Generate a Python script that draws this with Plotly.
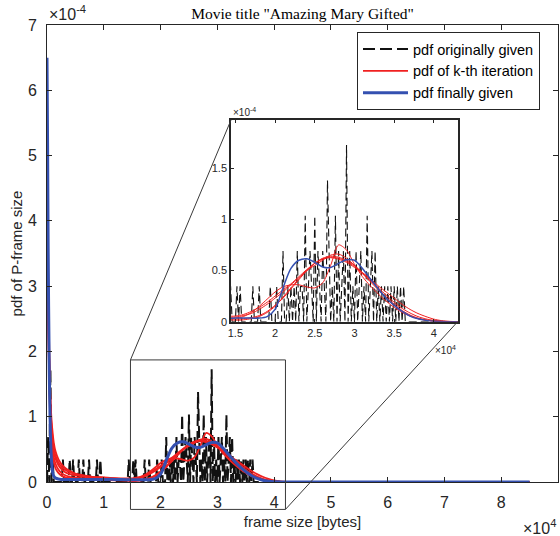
import numpy as np
import plotly.graph_objects as go

# ---------------- data ----------------
# frame sizes of the smooth curves, in units of 1e4 bytes
curve_x_1e4 = [0, 0.01, 0.02, 0.04, 0.06, 0.08, 0.1, 0.12, 0.15, 0.2,
               0.25, 0.3, 0.4, 0.5, 0.65, 0.8, 1.0, 1.2, 1.4, 1.5,
               1.6, 1.7, 1.8, 1.9, 2.0, 2.1, 2.2, 2.3, 2.4, 2.5,
               2.6, 2.7, 2.8, 2.9, 3.0, 3.1, 3.2, 3.3, 3.4, 3.5,
               3.6, 3.7, 3.8, 3.9, 4.0, 4.1, 4.2, 4.4, 5.0, 8.5]

# pdf finally given (units of 1e-4)
pdf_final_1e_4 = [6.5, 5.2, 3.6, 1.7, 0.75, 0.32, 0.15, 0.09, 0.06, 0.045,
                  0.04, 0.04, 0.04, 0.04, 0.04, 0.04, 0.04, 0.04, 0.035, 0.035,
                  0.035, 0.035, 0.035, 0.05, 0.12, 0.33, 0.52, 0.6, 0.615, 0.58,
                  0.535, 0.53, 0.57, 0.605, 0.6, 0.52, 0.42, 0.32, 0.23, 0.16,
                  0.1, 0.055, 0.028, 0.013, 0.005, 0.002, 0, 0, 0, 0]

# pdfs of the k-th iterations (units of 1e-4)
pdf_iter1_1e_4 = [5.5, 4.2, 3.2, 2.0, 1.3, 0.95, 0.75, 0.6, 0.47, 0.35,
                  0.28, 0.23, 0.17, 0.13, 0.1, 0.08, 0.065, 0.05, 0.04, 0.035,
                  0.05, 0.09, 0.15, 0.22, 0.29, 0.34, 0.36, 0.36, 0.34, 0.33,
                  0.38, 0.55, 0.75, 0.70, 0.56, 0.44, 0.35, 0.27, 0.2, 0.14,
                  0.09, 0.055, 0.03, 0.015, 0.006, 0.002, 0, 0, 0, 0]
pdf_iter2_1e_4 = [4.8, 3.8, 2.9, 1.8, 1.15, 0.8, 0.6, 0.47, 0.36, 0.26,
                  0.2, 0.16, 0.12, 0.1, 0.08, 0.065, 0.055, 0.05, 0.045, 0.045,
                  0.06, 0.08, 0.12, 0.17, 0.23, 0.29, 0.36, 0.43, 0.5, 0.57,
                  0.62, 0.64, 0.63, 0.6, 0.55, 0.48, 0.41, 0.33, 0.26, 0.19,
                  0.13, 0.085, 0.05, 0.027, 0.013, 0.005, 0.002, 0, 0, 0]
pdf_iter3_1e_4 = [4.5, 3.5, 2.6, 1.6, 1.0, 0.68, 0.5, 0.38, 0.28, 0.19,
                  0.14, 0.11, 0.08, 0.065, 0.05, 0.045, 0.04, 0.035, 0.03, 0.025,
                  0.03, 0.04, 0.06, 0.1, 0.16, 0.23, 0.32, 0.41, 0.5, 0.57,
                  0.615, 0.625, 0.61, 0.58, 0.53, 0.47, 0.4, 0.32, 0.24, 0.17,
                  0.11, 0.065, 0.035, 0.017, 0.007, 0.003, 0, 0, 0, 0]
pdf_iter4_1e_4 = [4.2, 3.3, 2.5, 1.5, 0.9, 0.6, 0.42, 0.3, 0.21, 0.14,
                  0.1, 0.08, 0.06, 0.05, 0.04, 0.035, 0.03, 0.025, 0.02, 0.015,
                  0.018, 0.03, 0.05, 0.09, 0.15, 0.24, 0.33, 0.42, 0.5, 0.55,
                  0.6, 0.65, 0.66, 0.62, 0.55, 0.47, 0.39, 0.31, 0.23, 0.16,
                  0.1, 0.06, 0.03, 0.015, 0.006, 0.002, 0, 0, 0, 0]
pdf_iter5_1e_4 = [5.0, 4.0, 3.0, 1.9, 1.2, 0.85, 0.66, 0.52, 0.4, 0.3,
                  0.24, 0.2, 0.15, 0.12, 0.095, 0.08, 0.07, 0.06, 0.055, 0.055,
                  0.07, 0.1, 0.14, 0.19, 0.25, 0.31, 0.37, 0.44, 0.51, 0.57,
                  0.61, 0.63, 0.62, 0.59, 0.54, 0.48, 0.42, 0.35, 0.29, 0.23,
                  0.17, 0.12, 0.08, 0.05, 0.025, 0.01, 0.003, 0, 0, 0]

# pdf originally given: histogram counts at frame sizes (1e4 bytes)
orig_bin_1e4 = 0.02
orig_last_bin_1e4 = 4.4
orig_end_1e4 = 8.5
orig_pdf_per_count_1e_4 = 0.345
orig_spike_x_1e4 = [0.02, 0.06, 0.10,
                    0.28, 0.40, 0.46, 0.56, 0.64, 0.74, 0.88, 0.94,
                    1.44, 1.52, 1.56, 1.72, 1.80, 1.94, 2.02, 2.10, 2.16, 2.20,
                    2.24, 2.28, 2.32, 2.34, 2.38, 2.42, 2.44, 2.46, 2.50, 2.54,
                    2.56, 2.60, 2.62, 2.66, 2.68, 2.72, 2.76, 2.80, 2.84, 2.86,
                    2.90, 2.94, 2.98, 3.02, 3.06, 3.08, 3.12, 3.16, 3.20, 3.22,
                    3.26, 3.30, 3.34, 3.38, 3.42, 3.46, 3.50, 3.54, 3.58, 3.62]
orig_spike_count = [2, 5, 1,
                    1, 1, 1, 1, 1, 1, 1, 1,
                    1, 1, 1, 1, 1, 1, 1, 2, 1, 1,
                    1, 2, 1, 1, 3, 1, 2, 1, 3, 2,
                    1, 2, 1, 4, 2, 1, 3, 2, 1, 2,
                    5, 2, 1, 2, 1, 2, 1, 3, 1, 2,
                    2, 1, 1, 1, 1, 1, 1, 1, 1, 1]

# axes
main_xlim_1e4 = [0, 9]
main_ylim_1e_4 = [0, 7]
inset_xlim_1e4 = [1.445, 4.30]
inset_ylim_1e_4 = [0, 1.97]
zoom_box_x_1e4 = [1.47, 4.20]
zoom_box_y_1e_4 = [-0.42, 1.87]
main_xticks = [0, 1, 2, 3, 4, 5, 6, 7, 8, 9]
main_yticks = [0, 1, 2, 3, 4, 5, 6, 7]
inset_xticks = [1.5, 2, 2.5, 3, 3.5, 4]
inset_yticks = [0, 0.5, 1, 1.5]

title_text = 'Movie title "Amazing Mary Gifted"'
xlabel = "frame size [bytes]"
ylabel = "pdf of P-frame size"
legend_names = ["pdf originally given", "pdf of k-th iteration", "pdf finally given"]

# ---------------- build ----------------
XS, YS = 1e4, 1e-4
cx = np.array(curve_x_1e4) * XS
grid = np.round(np.arange(0, orig_last_bin_1e4 + 1e-9, orig_bin_1e4), 2)
orig = np.zeros_like(grid)
for p, c in zip(orig_spike_x_1e4, orig_spike_count):
    orig[np.argmin(np.abs(grid - p))] = c * orig_pdf_per_count_1e_4
ox = np.append(grid, orig_end_1e4) * XS
oy = np.append(orig, 0.0) * YS
iters = [pdf_iter1_1e_4, pdf_iter2_1e_4, pdf_iter3_1e_4, pdf_iter4_1e_4, pdf_iter5_1e_4]

BLACK = "#111111"
RED = "#f02020"
BLUE = "#3450b0"
AX = "#262626"
FONT = "Liberation Sans, Arial, sans-serif"

fig = go.Figure()

def add_set(xa, ya, wb, wr, wbl, dash, legend):
    fig.add_trace(go.Scatter(x=ox, y=oy, mode="lines", xaxis=xa, yaxis=ya,
                             line=dict(color=BLACK, width=wb, dash=dash),
                             name=legend_names[0], showlegend=legend, legendgroup="o",
                             hoverinfo="skip"))
    for i, r in enumerate(iters):
        fig.add_trace(go.Scatter(x=cx, y=np.array(r) * YS, mode="lines", xaxis=xa, yaxis=ya,
                                 line=dict(color=RED, width=wr, shape="spline", smoothing=0.8),
                                 name=legend_names[1], showlegend=legend and i == 0,
                                 legendgroup="r", hoverinfo="skip"))
    fig.add_trace(go.Scatter(x=cx, y=np.array(pdf_final_1e_4) * YS, mode="lines", xaxis=xa, yaxis=ya,
                             line=dict(color=BLUE, width=wbl, shape="spline", smoothing=0.8),
                             name=legend_names[2], showlegend=legend, legendgroup="b",
                             hoverinfo="skip"))

add_set("x", "y", 2.0, 1.8, 3.0, "12px,5px", True)
add_set("x2", "y2", 1.1, 1.0, 1.5, "8px,4px", False)

W, H = 560, 536
L, R, T, B = 47, 2, 25, 54
pw, ph = W - L - R, H - T - B
# inset domain from its pixel box
ix0, ix1 = (231 - L) / pw, (457.7 - L) / pw
iy0, iy1 = (H - B - 321.7) / ph, (H - B - 120) / ph

def fmt(v):
    return ("%g" % v)

axis_common = dict(showgrid=False, zeroline=False, showline=True, linecolor=AX,
                   ticks="inside", mirror="ticks", tickcolor=AX)

fig.update_layout(
    width=W, height=H, autosize=False,
    margin=dict(l=L, r=R, t=T, b=B),
    paper_bgcolor="white", plot_bgcolor="white",
    font=dict(family=FONT, color=AX),
    title=dict(text=title_text, x=0.5, xref="paper", xanchor="center",
               y=1 - 14 / H, yref="container", yanchor="middle",
               font=dict(family="Liberation Serif, Times New Roman, serif", size=15.5, color="#000000")),
    xaxis=dict(domain=[0, 1], range=[v * XS for v in main_xlim_1e4],
               tickvals=[v * XS for v in main_xticks], ticktext=[fmt(v) for v in main_xticks],
               ticklen=5, linewidth=1, tickfont=dict(size=16, color=AX),
               ticklabelstandoff=6,
               title=dict(text=xlabel, font=dict(size=15, color=AX), standoff=6),
               **axis_common),
    yaxis=dict(domain=[0, 1], range=[v * YS for v in main_ylim_1e_4],
               tickvals=[v * YS for v in main_yticks], ticktext=[fmt(v) for v in main_yticks],
               ticklen=5, linewidth=1, tickfont=dict(size=16, color=AX),
               ticklabelstandoff=6,
               title=dict(text=ylabel, font=dict(size=15, color=AX), standoff=1),
               **axis_common),
    xaxis2=dict(domain=[ix0, ix1], anchor="y2", range=[v * XS for v in inset_xlim_1e4],
                tickvals=[v * XS for v in inset_xticks], ticktext=[fmt(v) for v in inset_xticks],
                ticklen=3, linewidth=1.5, tickfont=dict(size=11, color=AX),
                **axis_common),
    yaxis2=dict(domain=[iy0, iy1], anchor="x2", range=[v * YS for v in inset_ylim_1e_4],
                tickvals=[v * YS for v in inset_yticks], ticktext=[fmt(v) for v in inset_yticks],
                ticklen=3, linewidth=1.5, tickfont=dict(size=11, color=AX),
                **axis_common),
    legend=dict(x=(357 - L) / pw, y=(H - B - 32) / ph, xanchor="left", yanchor="top",
                bgcolor="white", bordercolor=AX, borderwidth=1,
                font=dict(size=14.5, color="#000000", family=FONT),
                itemwidth=45, tracegroupgap=0),
    showlegend=True,
)

# exponent labels
fig.add_annotation(text="×10<sup>-4</sup>", xref="paper", yref="paper", x=0, y=1,
                   xanchor="left", yanchor="bottom", showarrow=False,
                   font=dict(size=16, color=AX))
fig.add_annotation(text="×10<sup>4</sup>", xref="paper", yref="paper", x=1, y=(H - B - 527) / ph,
                   xanchor="right", yanchor="middle", showarrow=False,
                   font=dict(size=16, color=AX))
fig.add_annotation(text="×10<sup>-4</sup>", xref="paper", yref="paper", x=ix0, y=iy1,
                   xanchor="left", yanchor="bottom", showarrow=False,
                   font=dict(size=10, color=AX))
fig.add_annotation(text="×10<sup>4</sup>", xref="paper", yref="paper", x=ix1, y=iy0,
                   xanchor="right", yanchor="top", yshift=-20, showarrow=False,
                   font=dict(size=10, color=AX))

# zoom box and connector lines (paper coords from main-axis data values)
def px(v):
    return (v - main_xlim_1e4[0]) / (main_xlim_1e4[1] - main_xlim_1e4[0])

def py(v):
    return (v - main_ylim_1e_4[0]) / (main_ylim_1e_4[1] - main_ylim_1e_4[0])

bx0, bx1 = px(zoom_box_x_1e4[0]), px(zoom_box_x_1e4[1])
by0, by1 = py(zoom_box_y_1e_4[0]), py(zoom_box_y_1e_4[1])
fig.add_shape(type="rect", xref="paper", yref="paper", x0=bx0, x1=bx1, y0=by0, y1=by1,
              line=dict(color="#3a3a3a", width=1))
fig.add_shape(type="line", xref="paper", yref="paper", x0=bx0, y0=by1, x1=ix0, y1=iy1,
              line=dict(color="#3a3a3a", width=1))
fig.add_shape(type="line", xref="paper", yref="paper", x0=bx1, y0=by0, x1=ix1, y1=iy0,
              line=dict(color="#3a3a3a", width=1))

fig.write_html("out.html")
